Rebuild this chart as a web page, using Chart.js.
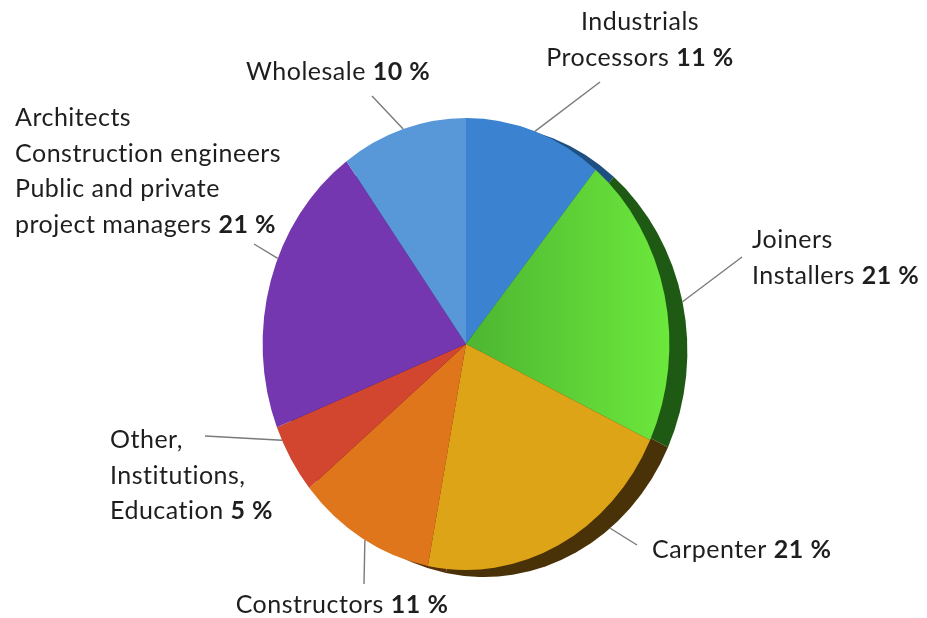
<!DOCTYPE html>
<html>
<head>
<meta charset="utf-8">
<script src="https://cdn.jsdelivr.net/npm/chart.js@4.4.1/dist/chart.umd.min.js"></script>
<style>
  body { margin: 0; background: #fff; }
  canvas { display: block; }
</style>
</head>
<body>
<canvas id="pie" width="927" height="618"></canvas>
<script>
/* market share pie */
const categories = ['Industrials Processors', 'Joiners Installers', 'Carpenter', 'Constructors',
                    'Other, Institutions, Education', 'Architects, Construction engineers, Public and private project managers', 'Wholesale'];
const labelLines = [
  ['Industrials', 'Processors'],
  ['Joiners', 'Installers'],
  ['Carpenter'],
  ['Constructors'],
  ['Other,', 'Institutions,', 'Education'],
  ['Architects', 'Construction engineers', 'Public and private', 'project managers'],
  ['Wholesale']
];
const shares = [11, 21, 21, 11, 5, 21, 10];

const COLORS = ['#3b82d0', '#58c236', '#dea417', '#e0761c', '#d2452e', '#7437b0', '#5898d8'];
const EDGE   = ['#1d4f80', '#1f5a14', '#4a3208', '#5a300a', '#5a1c12', '#2e1648', '#24466c'];
const FONT = "Lato, 'Open Sans', sans-serif";
const FSIZE = 25;

// where each label sits: spot along the slice (0..1), leader end, text anchor, alignment
const LAYOUT = [
  { f: 0.5,  ex: 600, ey: 82,  tx: 640, ty: 22,  align: 'center' },
  { f: 0.5,  ex: 742, ey: 257, tx: 752, ty: 240, align: 'left' },
  { f: 0.35, ex: 637, ey: 545, tx: 652, ty: 550, align: 'left' },
  { f: 0.48, ex: 364, ey: 584, tx: 342, ty: 605, align: 'center' },
  { f: 0.8,  ex: 205, ey: 436, tx: 110, ty: 440, align: 'left' },
  { f: 0.58, ex: 254, ey: 244, tx: 15,  ty: 118, align: 'left' },
  { f: 0.5,  ex: 372, ey: 96,  tx: 246, ty: 72,  align: 'left' }
];
const SX = 0.9;          // horizontal squash, fake tilt
const SHADOW = [18, 7];  // offset of the disc side
const LINE_H = 35.5;

const tiltPlugin = {
  id: 'tilt',
  beforeDatasetsDraw(chart) {
    const ctx = chart.ctx;
    const arcs = chart.getDatasetMeta(0).data;
    const { x, y } = arcs[0];
    ctx.save();
    ctx.translate(x, y); ctx.scale(SX, 1); ctx.translate(-x, -y);
    // thick side of the disc
    arcs.forEach((a, i) => {
      const ox = a.x + SHADOW[0] / SX, oy = a.y + SHADOW[1];
      ctx.beginPath();
      ctx.moveTo(ox, oy);
      ctx.arc(ox, oy, a.outerRadius, a.startAngle, a.endAngle);
      ctx.closePath();
      ctx.fillStyle = EDGE[i];
      ctx.fill();
    });
  },
  afterDatasetsDraw(chart) {
    chart.ctx.restore();
  }
};

function setFont(ctx, bold) {
  ctx.font = (bold ? 'bold ' : '') + FSIZE + 'px ' + FONT;
  ctx.letterSpacing = '0.5px';
}

const labelPlugin = {
  id: 'sliceLabels',
  afterDraw(chart) {
    const ctx = chart.ctx;
    const arcs = chart.getDatasetMeta(0).data;
    const slen = Math.hypot(SHADOW[0], SHADOW[1]);
    ctx.save();
    arcs.forEach((a, i) => {
      const L = LAYOUT[i];
      const ang = a.startAngle + (a.endAngle - a.startAngle) * L.f;
      const cx = Math.cos(ang), cy = Math.sin(ang);
      let sx = a.x + SX * a.outerRadius * cx;
      let sy = a.y + a.outerRadius * cy;
      // leader starts past the dark side where that side shows
      if ((cx * SHADOW[0] + cy * SHADOW[1]) / slen > 0.5) { sx += SHADOW[0]; sy += SHADOW[1]; }
      ctx.strokeStyle = '#7a7a7a';
      ctx.lineWidth = 1.4;
      ctx.beginPath(); ctx.moveTo(sx, sy); ctx.lineTo(L.ex, L.ey); ctx.stroke();

      ctx.fillStyle = '#1e1e1e';
      ctx.textBaseline = 'middle';
      ctx.textAlign = 'left';
      const lines = labelLines[i];
      lines.forEach((t, j) => {
        const yy = L.ty + j * LINE_H;
        const last = j === lines.length - 1;
        const txt = last ? t + ' ' : t;
        const pct = shares[i] + ' %';
        setFont(ctx, false);
        const w1 = ctx.measureText(txt).width;
        let w2 = 0;
        if (last) { setFont(ctx, true); w2 = ctx.measureText(pct).width; }
        const x0 = L.align === 'center' ? L.tx - (w1 + w2) / 2 : L.tx;
        setFont(ctx, false);
        ctx.fillText(txt, x0, yy);
        if (last) { setFont(ctx, true); ctx.fillText(pct, x0 + w1, yy); }
      });
    });
    ctx.restore();
  }
};

const ctx = document.getElementById('pie').getContext('2d');
const green = ctx.createLinearGradient(480, 0, 690, 0);
green.addColorStop(0, '#4fb832');
green.addColorStop(1, '#6ce83c');
const fills = COLORS.slice();
fills[1] = green;

new Chart(ctx, {
  type: 'pie',
  data: {
    labels: categories,
    datasets: [{
      data: shares,
      backgroundColor: fills,
      borderWidth: 0
    }]
  },
  options: {
    responsive: false,
    animation: false,
    layout: { padding: { left: 240, right: 235, top: 118, bottom: 48 } },
    plugins: { legend: { display: false }, tooltip: { enabled: false } }
  },
  plugins: [tiltPlugin, labelPlugin]
});
</script>
</body>
</html>
